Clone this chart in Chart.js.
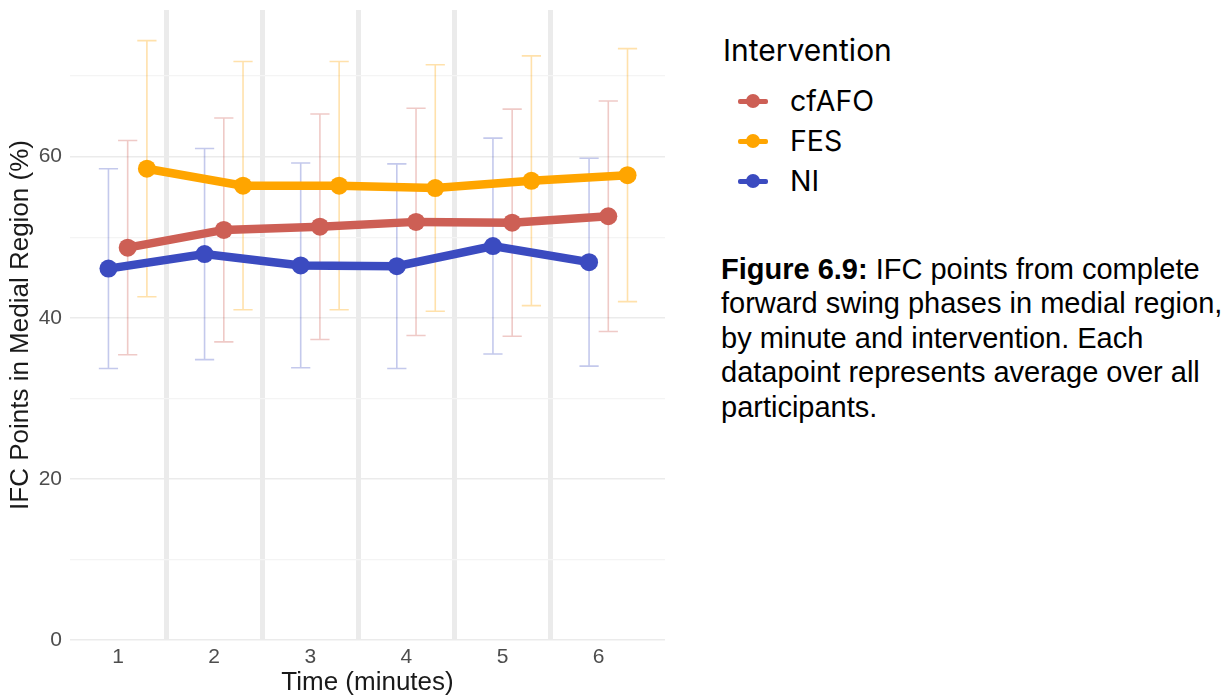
<!DOCTYPE html>
<html>
<head>
<meta charset="utf-8">
<script src="https://cdn.jsdelivr.net/npm/chart.js@4.4.1/dist/chart.umd.min.js"></script>
<style>
	body { margin: 0; background: #fff; width: 1228px; height: 698px; position: relative; overflow: hidden; }
	#divCanvas { position: absolute; left: 0; top: 0; width: 680px; height: 698px; }
	#legend { position: absolute; left: 0; top: 0; font-family: Inter, sans-serif; color: #000; }
	#legend .title { position: absolute; left: 723px; top: 35px; font-size: 30px; line-height: 30px; white-space: nowrap; }
	#legend .item { position: absolute; left: 738px; font-size: 28.5px; line-height: 28px; white-space: nowrap; }
	#legend .key { position: absolute; left: 0; top: 12px; width: 30px; height: 5px; border-radius: 2px; }
	#legend .dot { position: absolute; left: 8px; top: 7px; width: 14px; height: 14px; border-radius: 50%; }
	#legend .label { position: absolute; left: 52px; top: 0; }
	#caption { position: absolute; left: 721px; top: 252px; font-family: "Liberation Sans", Arial, sans-serif;
		font-size: 29px; line-height: 34.4px; color: #000; white-space: nowrap; }
</style>
</head>
<body>
<div id="divCanvas"><canvas id="graficoIFC" width="680" height="698"></canvas></div>
<div id="legend"><div class="title">Intervention</div></div>
<div id="caption"><b>Figure 6.9:</b> IFC points from complete<br>forward swing phases in medial region,<br>by minute and intervention. Each<br>datapoint represents average over all<br>participants.</div>
<script>
var minutes = [1, 2, 3, 4, 5, 6];
var groups = ["cfAFO", "FES", "NI"];

// mean and standard deviation per minute
var meanCfAFO = [48.7, 50.9, 51.3, 51.9, 51.8, 52.6];
var sdCfAFO   = [13.3, 13.9, 14.0, 14.1, 14.1, 14.3];
var meanFES   = [58.5, 56.4, 56.4, 56.1, 57.0, 57.7];
var sdFES     = [15.9, 15.4, 15.4, 15.3, 15.5, 15.7];
var meanNI    = [46.1, 47.9, 46.5, 46.4, 48.9, 46.9];
var sdNI      = [12.4, 13.1, 12.7, 12.7, 13.4, 12.9];

var yTicks = [0, 20, 40, 60];

var colors = { cfAFO: "#cd5f55", FES: "#ffa500", NI: "#3b4bc0" };
var barColors = { cfAFO: "rgba(205,95,85,0.33)", FES: "rgba(255,165,0,0.33)", NI: "rgba(59,75,192,0.3)" };

// small dodge so the groups don't sit on top of each other
function points(means, shift) {
	var out = [];
	for (var i = 0; i < minutes.length; i++) {
		out.push({ x: minutes[i] + shift, y: means[i] });
	}
	return out;
}

function serie(name, means, sds, shift) {
	return {
		label: name,
		data: points(means, shift),
		sd: sds,
		barColor: barColors[name],
		borderColor: colors[name],
		backgroundColor: colors[name],
		borderWidth: 8.5,
		pointRadius: 9,
		pointBorderWidth: 0,
		tension: 0
	};
}

// error bars (mean +/- sd) drawn under the lines
var errorBars = {
	id: 'errorBars',
	beforeDatasetsDraw: function(chart) {
		var ctx = chart.ctx;
		var xs = chart.scales.x, ys = chart.scales.y;
		chart.data.datasets.forEach(function(ds) {
			ctx.save();
			ctx.strokeStyle = ds.barColor;
			ctx.lineWidth = 1.6;
			ds.data.forEach(function(p, i) {
				var x = xs.getPixelForValue(p.x);
				var xa = xs.getPixelForValue(p.x - 0.1);
				var xb = xs.getPixelForValue(p.x + 0.1);
				var top = ys.getPixelForValue(p.y + ds.sd[i]);
				var bot = ys.getPixelForValue(p.y - ds.sd[i]);
				ctx.beginPath();
				ctx.moveTo(x, top); ctx.lineTo(x, bot);
				ctx.moveTo(xa, top); ctx.lineTo(xb, top);
				ctx.moveTo(xa, bot); ctx.lineTo(xb, bot);
				ctx.stroke();
			});
			ctx.restore();
		});
	}
};

var xTicks = [];
for (var v = 1; v <= 6; v += 0.5) xTicks.push(v);
var yGrid = [];
for (var w = 0; w <= 70; w += 10) yGrid.push(w);

function isHalf(c) { return c.tick && c.tick.value % 1 !== 0; }
function isMajorY(c) { return c.tick && yTicks.indexOf(c.tick.value) >= 0; }

var axisFont = { family: "'Liberation Sans', Arial, sans-serif", size: 21 };
var titleFont = { family: "'Liberation Sans', Arial, sans-serif", size: 26 };

var grafico = new Chart(document.getElementById("graficoIFC"), {
	type: 'line',
	data: {
		datasets: [
			serie("cfAFO", meanCfAFO, sdCfAFO, 0.1),
			serie("FES", meanFES, sdFES, 0.3),
			serie("NI", meanNI, sdNI, -0.1)
		]
	},
	options: {
		responsive: false,
		animation: false,
		layout: { padding: { top: 10, right: 15, left: 0, bottom: 0 } },
		plugins: { legend: { display: false }, tooltip: { enabled: false } },
		scales: {
			x: {
				type: 'linear',
				min: 0.5,
				max: 6.69,
				afterBuildTicks: function(s) {
					s.ticks = xTicks.map(function(t) { return { value: t }; });
				},
				afterFit: function(s) { s.height = 58; },
				border: { display: false },
				grid: {
					drawTicks: false,
					color: function(c) { return isHalf(c) ? '#ebebeb' : 'rgba(0,0,0,0)'; },
					lineWidth: function(c) { return isHalf(c) ? 5 : 0; }
				},
				ticks: {
					autoSkip: false,
					maxRotation: 0,
					padding: 5,
					color: '#4d4d4d',
					font: axisFont,
					callback: function(val) { return minutes.indexOf(val) >= 0 ? String(val) : ''; }
				},
				title: { display: true, text: 'Time (minutes)', color: '#1a1a1a', font: titleFont, padding: { top: 0, bottom: 0 } }
			},
			y: {
				min: 0,
				max: 78.2,
				afterBuildTicks: function(s) {
					s.ticks = yGrid.map(function(t) { return { value: t }; });
				},
				afterFit: function(s) {
					s.width = 70;
					// no extra room above the plot for the tick labels
					s.paddingTop = 0;
					s.paddingBottom = 0;
				},
				border: { display: false },
				grid: {
					drawTicks: false,
					color: function(c) { return isMajorY(c) ? '#ebebeb' : '#f4f4f4'; },
					lineWidth: function(c) { return isMajorY(c) ? 1.6 : 1.2; }
				},
				ticks: {
					padding: 8,
					color: '#4d4d4d',
					font: axisFont,
					callback: function(val) { return yTicks.indexOf(val) >= 0 ? String(val) : ''; }
				},
				title: { display: true, text: 'IFC Points in Medial Region (%)', color: '#1a1a1a', font: titleFont, padding: { top: 5, bottom: 0 } }
			}
		}
	},
	plugins: [errorBars]
});

// legend on the right, built from the groups
var legend = document.getElementById("legend");
for (var g = 0; g < groups.length; g++) {
	var item = document.createElement("div");
	item.className = "item";
	item.style.top = (87 + g * 40.2) + "px";
	item.innerHTML = '<span class="key" style="background:' + colors[groups[g]] + '"></span>' +
		'<span class="dot" style="background:' + colors[groups[g]] + '"></span>' +
		'<span class="label">' + groups[g] + '</span>';
	legend.appendChild(item);
}
</script>
</body>
</html>
